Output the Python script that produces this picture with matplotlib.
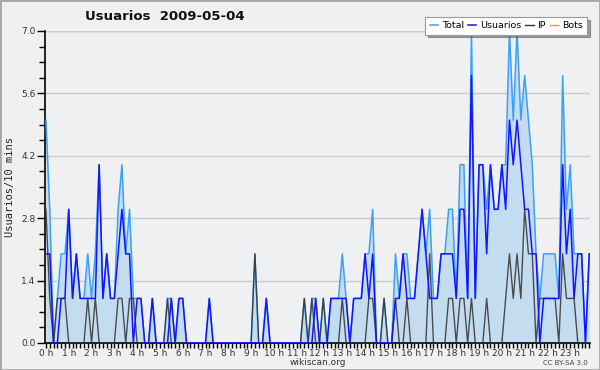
import matplotlib
matplotlib.use("Agg")
import matplotlib.pyplot as plt
from matplotlib.patches import Rectangle
import numpy as np

# usuarios por intervalo de 10 minutos (144 puntos, 2009-05-04)
usuarios = [2, 2, 0, 0, 1, 1, 3, 1, 2, 1, 1, 1, 1, 1, 4, 1, 2, 1, 1, 2,
            3, 2, 2, 0, 1, 1, 0, 0, 1, 0, 0, 0, 0, 1, 0, 1, 1, 0, 0, 0,
            0, 0, 0, 1, 0, 0, 0, 0, 0, 0, 0, 0, 0, 0, 0, 0, 0, 0, 1, 0,
            0, 0, 0, 0, 0, 0, 0, 0, 0, 0, 0, 1, 0, 0, 0, 1, 1, 1, 1, 1,
            0, 1, 1, 1, 2, 1, 2, 0, 0, 0, 0, 0, 1, 1, 2, 1, 1, 1, 2, 3,
            2, 1, 1, 1, 2, 2, 2, 2, 1, 3, 3, 1, 6, 1, 4, 4, 2, 4, 3, 3,
            4, 3, 5, 4, 5, 4, 3, 3, 2, 2, 0, 1, 1, 1, 1, 1, 4, 2, 3, 1,
            2, 2, 0, 2]
ip = [3, 1, 0, 1, 1, 1, 0, 0, 0, 0, 0, 1, 0, 1, 0, 0, 0, 0, 0, 1,
      1, 0, 1, 1, 0, 0, 0, 0, 0, 0, 0, 0, 1, 0, 0, 0, 0, 0, 0, 0,
      0, 0, 0, 0, 0, 0, 0, 0, 0, 0, 0, 0, 0, 0, 0, 2, 0, 0, 0, 0,
      0, 0, 0, 0, 0, 0, 0, 0, 1, 0, 1, 0, 0, 1, 0, 0, 0, 0, 1, 0,
      0, 0, 0, 0, 0, 1, 1, 0, 0, 1, 0, 0, 1, 0, 0, 1, 0, 0, 0, 0,
      0, 2, 0, 0, 0, 0, 1, 1, 0, 1, 1, 0, 1, 0, 0, 0, 1, 0, 0, 0,
      0, 1, 2, 1, 2, 1, 3, 2, 2, 0, 1, 1, 1, 1, 1, 0, 2, 1, 1, 1,
      0, 0, 0, 0]
total = [5, 3, 0, 1, 2, 2, 3, 1, 2, 1, 1, 2, 1, 2, 4, 1, 2, 1, 1, 3,
         4, 2, 3, 1, 1, 1, 0, 0, 1, 0, 0, 0, 1, 1, 0, 1, 1, 0, 0, 0,
         0, 0, 0, 1, 0, 0, 0, 0, 0, 0, 0, 0, 0, 0, 0, 2, 0, 0, 1, 0,
         0, 0, 0, 0, 0, 0, 0, 0, 1, 0, 1, 1, 0, 1, 0, 1, 1, 1, 2, 1,
         0, 1, 1, 1, 2, 2, 3, 0, 0, 1, 0, 0, 2, 1, 2, 2, 1, 1, 2, 3,
         2, 3, 1, 1, 2, 2, 3, 3, 1, 4, 4, 1, 7, 1, 4, 4, 3, 4, 3, 3,
         4, 4, 7, 5, 7, 5, 6, 5, 4, 2, 1, 2, 2, 2, 2, 1, 6, 3, 4, 2,
         2, 2, 0, 2]
bots = [0] * 144
hour_labels = ["%d h" % h for h in range(24)]

x = np.arange(len(total))

fig = plt.figure(figsize=(6, 3.7), dpi=100, facecolor="#f0f0f0")
fig.patches.append(Rectangle((0, 0), 1, 1, transform=fig.transFigure,
                             fill=False, edgecolor="#a8a8a8", linewidth=2))
ax = fig.add_axes([45 / 600, 27 / 370, 545 / 600, 312 / 370])
ax.set_facecolor("#eef0f2")

ax.fill_between(x, total, 0, color="#c4dcf0", zorder=1, linewidth=0)
ax.plot(x, bots, color="#ff9900", lw=1, zorder=0.5, label="Bots")
ax.plot(x, total, color="#3ea0f5", lw=1.1, zorder=3, label="Total")
ax.plot(x, ip, color="#333333", lw=1.0, alpha=0.85, zorder=3.5, label="IP")
ax.plot(x, usuarios, color="#1414ff", lw=1.1, zorder=4, label="Usuarios")

ax.set_xlim(-0.25, 143.2)
ax.set_ylim(0, 7)
yt = np.arange(0, 7.01, 1.4)
ax.set_yticks(yt)
ax.set_yticklabels(["%.1f" % v for v in yt])
ax.set_yticks(np.arange(0, 7.01, 0.35), minor=True)
ax.set_xticks(np.arange(0, 144, 6))
ax.set_xticklabels(hour_labels)
ax.set_xticks(np.arange(0, 144, 1), minor=True)
ax.tick_params(axis="y", which="major", length=6, width=1, color="black",
               labelsize=6.5, labelcolor="#333333", pad=1)
ax.tick_params(axis="y", which="minor", length=4, width=1, color="black")
ax.tick_params(axis="x", which="both", length=3.5, width=1, color="black",
               labelsize=6.5, labelcolor="#333333", pad=0.5)
ax.yaxis.grid(True, which="major", color="#cccccc", lw=1)
ax.set_axisbelow(True)
for s in ["top", "right"]:
    ax.spines[s].set_visible(False)
ax.spines["left"].set_linewidth(1.2)
ax.spines["bottom"].set_linewidth(1.2)
ax.axhline(7, color="#cccccc", lw=1, zorder=0.6)

ax.set_ylabel("Usuarios/10 mins", family="DejaVu Sans Mono", fontsize=7.5,
              color="#222222", labelpad=4)
ax.set_xlabel("wikiscan.org", fontsize=6.5, color="#333333", labelpad=0)

fig.text(85 / 600, 1 - 16 / 370, "Usuarios  2009-05-04", fontsize=9.5,
         fontweight="bold", va="center", ha="left", color="#111111")
fig.text(588 / 600, 1 - 363 / 370, "CC BY-SA 3.0", fontsize=5, ha="right",
         va="center", color="#444444")

h, l = ax.get_legend_handles_labels()
order = [l.index(n) for n in ["Total", "Usuarios", "IP", "Bots"]]
leg = fig.legend([h[i] for i in order], [l[i] for i in order], ncol=4,
                 loc="upper right", bbox_to_anchor=(587 / 600, 1 - 17 / 370),
                 fontsize=6.8, frameon=True, fancybox=False, shadow=True,
                 handlelength=0.9, handletextpad=0.4, columnspacing=0.4,
                 borderpad=0.45, borderaxespad=0)
leg.get_frame().set_edgecolor("#999999")
leg.get_frame().set_linewidth(0.8)
for lh in leg.get_lines():
    lh.set_alpha(1)

fig.savefig("out.png", dpi=100, facecolor=fig.get_facecolor())
